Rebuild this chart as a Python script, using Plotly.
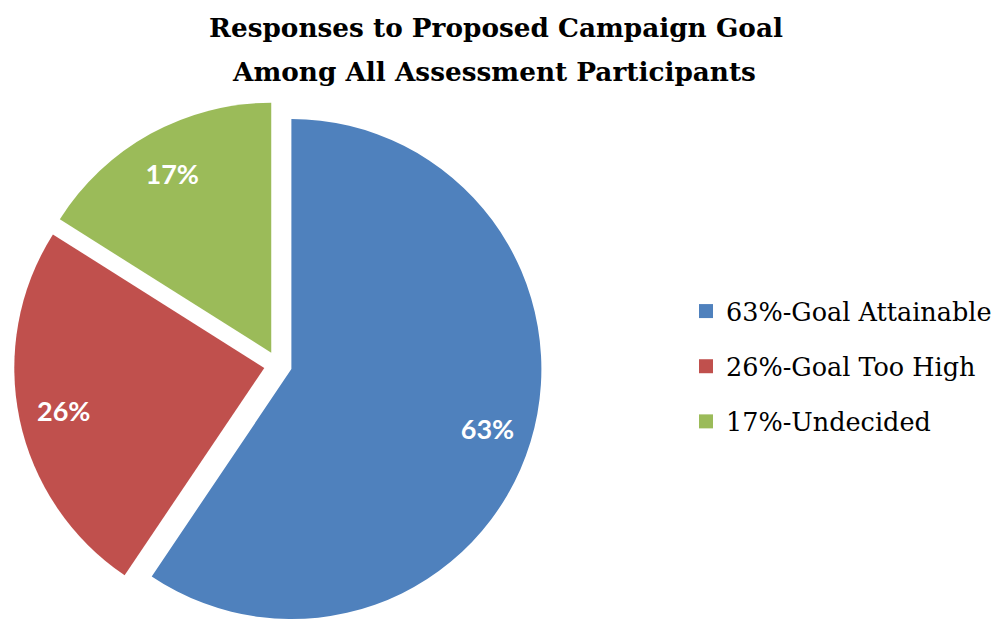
import plotly.graph_objects as go

# ---- data ----
categories = ["63%-Goal Attainable", "26%-Goal Too High", "17%-Undecided"]
values = [63, 26, 17]
colors = ["#4F81BD", "#C0504D", "#9BBB59"]
title_line1 = "Responses to Proposed Campaign Goal"
title_line2 = "Among All Assessment Participants"

W, H = 998, 629
pull = 0.056
pie_domain = dict(x=[0, 556 / W], y=[0, 1 - 101 / H])

fig = go.Figure()

# main pie (slices)
fig.add_trace(go.Pie(
    values=values, labels=categories,
    marker=dict(colors=colors, line=dict(width=0)),
    pull=[pull] * len(values),
    sort=False, direction="clockwise", rotation=0,
    textinfo="none", hoverinfo="label+value",
    showlegend=False, domain=pie_domain,
))

# transparent ring overlay used only to place the value labels
fig.add_trace(go.Pie(
    values=values, labels=categories,
    marker=dict(colors=["rgba(0,0,0,0)"] * len(values), line=dict(width=0)),
    pull=[pull] * len(values), hole=0.64,
    sort=False, direction="clockwise", rotation=0,
    texttemplate="%{value}%", textposition="inside",
    insidetextorientation="horizontal",
    textfont=dict(family="Lato, Open Sans, sans-serif", size=27, color="white", weight="bold"),
    hoverinfo="skip", showlegend=False, domain=pie_domain,
))

# legend entries
for name, c in zip(categories, colors):
    fig.add_trace(go.Scatter(
        x=[None], y=[None], mode="markers", name=name, legendgroup=name,
        marker=dict(symbol="square", size=14, color=c),
    ))

fig.update_layout(
    width=W, height=H,
    margin=dict(l=0, r=0, t=0, b=0, autoexpand=False),
    paper_bgcolor="white", plot_bgcolor="white",
    xaxis=dict(visible=False), yaxis=dict(visible=False),
    title=dict(text="<b>%s</b>" % title_line1, x=0.497, xanchor="center",
               y=1 - 28 / H, yanchor="middle", yref="container",
               font=dict(family="DejaVu Serif, serif", size=26.3, color="black")),
    annotations=[dict(text="<b>%s</b>" % title_line2, x=0.495, xref="paper",
                      y=1 - 71 / H, yref="paper", xanchor="center", yanchor="middle",
                      showarrow=False,
                      font=dict(family="DejaVu Serif, serif", size=26.3, color="black"))],
    legend=dict(x=686 / W, xanchor="left", y=1 - 288 / H, yanchor="top",
                font=dict(family="DejaVu Serif, serif", size=25.5, color="black"),
                tracegroupgap=19, bgcolor="rgba(0,0,0,0)"),
)

fig.write_html("out.html")
